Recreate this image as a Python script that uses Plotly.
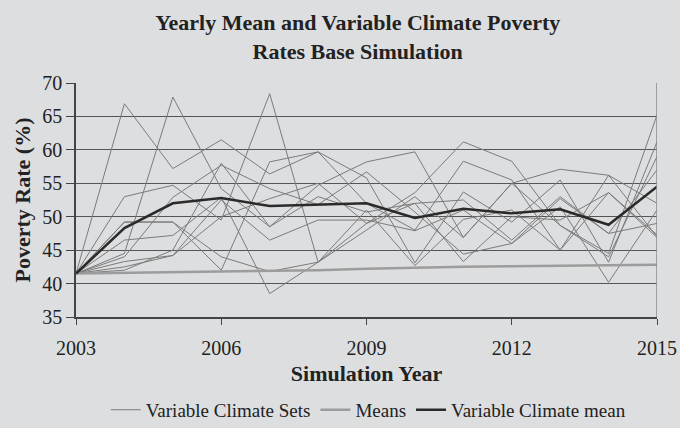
import plotly.graph_objects as go

years = list(range(2003, 2016))

variable_sets = [
    [41.5, 66.9, 57.2, 61.5, 56.4, 59.7, 52.0, 48.0, 58.3, 55.5, 45.0, 53.6, 47.3],
    [41.5, 44.5, 67.9, 54.2, 48.5, 54.7, 58.2, 59.7, 46.9, 55.0, 57.1, 56.2, 47.0],
    [41.5, 53.0, 54.7, 49.5, 68.4, 43.2, 49.0, 53.6, 61.2, 58.3, 48.7, 44.5, 65.2],
    [41.5, 49.2, 49.2, 42.0, 58.2, 59.7, 55.8, 43.1, 53.7, 49.2, 55.5, 43.2, 61.2],
    [41.5, 44.0, 52.9, 57.7, 54.2, 51.8, 56.7, 50.7, 44.4, 46.0, 52.7, 47.5, 57.0],
    [41.5, 46.5, 47.2, 52.9, 38.5, 43.2, 51.0, 42.7, 49.6, 51.0, 45.0, 56.2, 52.0],
    [41.5, 43.3, 44.2, 52.5, 46.5, 49.5, 49.5, 47.9, 51.0, 46.0, 51.5, 40.2, 51.0],
    [41.5, 42.5, 44.2, 50.0, 52.7, 55.0, 49.0, 52.0, 43.3, 50.0, 49.5, 53.6, 46.9],
    [41.5, 49.2, 49.2, 44.0, 41.8, 43.2, 48.0, 53.0, 46.9, 55.0, 48.7, 44.0, 59.0],
    [41.5, 42.0, 45.0, 58.0, 48.5, 53.0, 50.7, 52.0, 52.5, 46.5, 53.0, 47.5, 49.0],
]

means = [41.5, 41.6, 41.7, 41.7, 41.8, 42.0, 42.2, 42.4, 42.5, 42.6, 42.7, 42.7, 42.8]
variable_mean = [41.5, 48.3, 52.0, 52.8, 51.6, 51.8, 52.0, 49.8, 51.2, 50.5, 51.1, 48.8, 54.5]

x_ticks = [2003, 2006, 2009, 2012, 2015]
y_ticks = [35, 40, 45, 50, 55, 60, 65, 70]

FONT = "Liberation Serif"
BG = "#dddee0"
TXT = "#222222"

fig = go.Figure()
for i, s in enumerate(variable_sets):
    fig.add_trace(go.Scatter(
        x=years, y=s, mode="lines",
        line=dict(color="#7b7b7b", width=1),
        name="Variable Climate Sets",
        legendgroup="sets", showlegend=(i == 0),
        hoverinfo="skip",
    ))
fig.add_trace(go.Scatter(
    x=years, y=means, mode="lines",
    line=dict(color="#9c9c9c", width=2.5),
    name="Means",
))
fig.add_trace(go.Scatter(
    x=years, y=variable_mean, mode="lines",
    line=dict(color="#2a2a2a", width=2.5),
    name="Variable Climate mean",
))

fig.update_layout(
    width=680, height=428,
    paper_bgcolor=BG, plot_bgcolor=BG,
    margin=dict(l=76, r=23, t=83, b=111, autoexpand=False),
    font=dict(family=FONT, size=20, color=TXT),
    title=dict(
        text="<b>Yearly Mean and Variable Climate Poverty<br>Rates Base Simulation</b>",
        x=0.526, xanchor="center", y=0.93, yanchor="top",
        font=dict(family=FONT, size=22, color=TXT),
    ),
    xaxis=dict(
        range=[2003, 2015], tickvals=x_ticks,
        showgrid=False, zeroline=False,
        showline=True, linecolor="#444444", linewidth=1.5,
        ticks="outside", ticklen=6, tickcolor="#444444",
        ticklabelstandoff=6,
        tickfont=dict(family=FONT, size=20, color=TXT),
        title=dict(text="<b>Simulation Year</b>", standoff=8,
                   font=dict(family=FONT, size=22, color=TXT)),
    ),
    yaxis=dict(
        range=[35, 70], tickvals=y_ticks,
        showgrid=True, gridcolor="#555555", gridwidth=1,
        zeroline=False,
        showline=True, linecolor="#444444", linewidth=1.5,
        ticks="outside", ticklen=8, tickcolor="#444444",
        tickfont=dict(family=FONT, size=20, color=TXT),
        title=dict(text="<b>Poverty Rate (%)</b>", standoff=6,
                   font=dict(family=FONT, size=22, color=TXT)),
    ),
    showlegend=True,
    legend=dict(
        orientation="h", x=0.503, xanchor="center", y=-0.397, yanchor="middle",
        bgcolor="rgba(0,0,0,0)", font=dict(family=FONT, size=19, color=TXT),
        itemwidth=30, tracegroupgap=0,
    ),
)

# right plot border (light)
fig.add_shape(type="line", xref="x", yref="paper", x0=2015, x1=2015, y0=0, y1=1,
              line=dict(color="#8a8a8a", width=1.5))

fig.write_html(
    "out.html",
    config={"displayModeBar": False},
    post_script="document.body.style.margin='0';document.body.style.background='%s';" % BG,
)
